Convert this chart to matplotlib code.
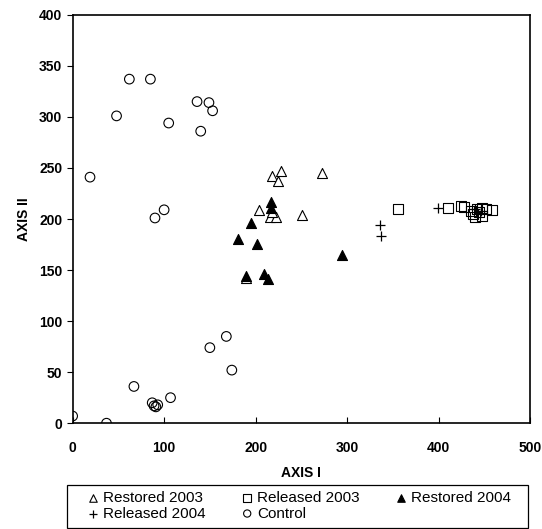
import matplotlib
matplotlib.use("Agg")
import matplotlib.pyplot as plt
from matplotlib.patches import Rectangle

plt.rcParams['font.family'] = ['Liberation Sans', 'DejaVu Sans']

# Restored 2003 (open triangles)
r03_x = [218, 228, 225, 204, 216, 222, 218, 251, 273, 190]
r03_y = [242, 247, 237, 209, 202, 202, 207, 204, 245, 142]
# Released 2003 (open squares)
l03_x = [356, 410, 425, 428, 435, 438, 442, 440, 447, 452, 458, 447, 444]
l03_y = [210, 211, 213, 212, 208, 205, 210, 202, 211, 210, 209, 203, 207]
# Restored 2004 (filled triangles)
r04_x = [217, 217, 195, 181, 202, 189, 209, 213, 294]
r04_y = [217, 211, 196, 180, 176, 144, 146, 141, 165]
# Released 2004 (plus)
l04_x = [336, 337, 399, 440, 446]
l04_y = [194, 183, 211, 210, 208]
# Control (open circles)
c_x = [19, 48, 62, 85, 105, 136, 149, 153, 140, 90, 100,
       0, 37, 67, 87, 89, 91, 93, 107, 150, 168, 174]
c_y = [241, 301, 337, 337, 294, 315, 314, 306, 286, 201, 209,
       7, 0, 36, 20, 17, 16, 18, 25, 74, 85, 52]

fig = plt.figure(figsize=(5.42, 5.29), dpi=100)
ax = fig.add_axes([0.134, 0.200, 0.844, 0.772])

ms = 52
h_r03 = ax.scatter(r03_x, r03_y, s=ms, marker='^', facecolors='white', edgecolors='black', linewidths=0.8, label='Restored 2003', zorder=3)
h_l03 = ax.scatter(l03_x, l03_y, s=ms, marker='s', facecolors='none', edgecolors='black', linewidths=0.8, label='Released 2003', zorder=3)
h_r04 = ax.scatter(r04_x, r04_y, s=ms, marker='^', facecolors='black', edgecolors='black', linewidths=0.8, label='Restored 2004', zorder=4)
h_l04 = ax.scatter(l04_x, l04_y, s=ms, marker='+', color='black', linewidths=0.9, label='Released 2004', zorder=4)
h_c = ax.scatter(c_x, c_y, s=48, marker='o', facecolors='none', edgecolors='black', linewidths=0.8, label='Control', zorder=3)

ax.set_xlim(0, 500)
ax.set_ylim(0, 400)
ax.set_xticks(range(0, 501, 100))
ax.set_yticks(range(0, 401, 50))
ax.tick_params(axis='x', direction='in', length=4, width=0.8, pad=13, labelsize=10)
ax.tick_params(axis='y', direction='out', length=4, width=0.8, labelsize=10)
for lab in ax.get_xticklabels() + ax.get_yticklabels():
    lab.set_fontweight('bold')
for sp in ax.spines.values():
    sp.set_linewidth(1.2)
ax.set_xlabel('AXIS I', fontsize=10, fontweight='bold', labelpad=8)
ax.set_ylabel('AXIS II', fontsize=10, fontweight='bold', labelpad=6)

# order so that rows read R03, L03, R04 / L04, Control
handles = [h_r03, h_l04, h_l03, h_c, h_r04]
labels = [h.get_label() for h in handles]
leg = fig.legend(handles, labels, loc='upper left',
                 bbox_to_anchor=(85/542, 1-491/529),
                 ncol=3, fontsize=11, frameon=False,
                 handletextpad=0.1, handlelength=1.1, borderpad=0,
                 borderaxespad=0, labelspacing=0.1, columnspacing=2.15,
                 markerscale=0.75, scatterpoints=1)
fig.add_artist(Rectangle((67/542, 1-528/529), (528-67)/542, (528-485)/529,
                         transform=fig.transFigure, fill=False,
                         edgecolor='black', linewidth=0.9))

fig.savefig('out.png', dpi=100)
